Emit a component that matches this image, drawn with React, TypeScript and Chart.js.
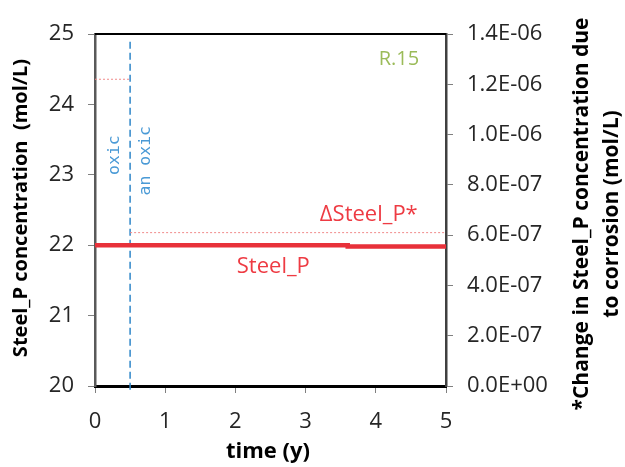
import React, { useEffect, useRef } from "react";
import { Chart, registerables } from "chart.js";

Chart.register(...registerables);

// Steel_P concentration over time (left axis, mol/L)
const TIME_STEEL = [0, 3.6, 3.6, 5];
const STEEL_P = [22.0, 22.0, 21.98, 21.98];

// Change in Steel_P due to corrosion (right axis, mol/L)
const TIME_DELTA = [0, 0.5, 0.5, 0.5, 5];
const DELTA_STEEL_P: (number | null)[] = [1.22e-6, 1.22e-6, null, 6.1e-7, 6.1e-7];

// oxic / anoxic boundary
const PHASE_TIME = [0.5, 0.5];
const PHASE_SPAN = [24.89, 19.94];

const X_TICKS = [0, 1, 2, 3, 4, 5];
const LEFT_RANGE = [20, 25];
const RIGHT_RANGE = [0, 1.4e-6];

// text labels placed in data coordinates (left axis)
const LABELS = [
  { text: "R.15", x: 4.33, y: 24.64, color: "#9bbb59", font: "20px 'Open Sans'", rot: 0 },
  { text: "\u0394Steel_P*", x: 3.9, y: 22.43, color: "#ee3b43", font: "22px 'Open Sans'", rot: 0 },
  { text: "Steel_P", x: 2.54, y: 21.7, color: "#ee3b43", font: "22px 'Open Sans'", rot: 0 },
  { text: "oxic", x: 0.28, y: 23.28, color: "#4a9ad6", font: "16.5px 'DejaVu Sans Mono'", rot: -Math.PI / 2 },
  { text: "an oxic", x: 0.72, y: 23.2, color: "#4a9ad6", font: "16.5px 'DejaVu Sans Mono'", rot: -Math.PI / 2 },
];

const TICK_FONT = { family: "'Open Sans'", size: 22 };

function fmtExp(v: number): string {
  if (Math.abs(v) < 1e-12) return "0.0E+00";
  const [m, e] = v.toExponential(1).split("e");
  const n = parseInt(e, 10);
  const sign = n < 0 ? "-" : "+";
  return `${m}E${sign}${String(Math.abs(n)).padStart(2, "0")}`;
}

const overlay = {
  id: "overlay",
  afterDatasetsDraw(chart: any) {
    const { ctx, chartArea, scales } = chart;
    ctx.save();
    // top frame line
    ctx.strokeStyle = "#000";
    ctx.lineWidth = 2;
    ctx.beginPath();
    ctx.moveTo(chartArea.left, chartArea.top);
    ctx.lineTo(chartArea.right, chartArea.top);
    ctx.stroke();

    ctx.textAlign = "center";
    ctx.textBaseline = "middle";
    for (const l of LABELS) {
      const px = scales.x.getPixelForValue(l.x);
      const py = scales.y.getPixelForValue(l.y);
      ctx.save();
      ctx.translate(px, py);
      ctx.rotate(l.rot);
      ctx.fillStyle = l.color;
      ctx.font = l.font;
      ctx.fillText(l.text, 0, 0);
      ctx.restore();
    }

    // axis titles
    ctx.fillStyle = "#000";
    ctx.font = "bold 20px 'Open Sans'";
    ctx.save();
    ctx.translate(21, 208);
    ctx.rotate(-Math.PI / 2);
    ctx.fillText("Steel_P concentration  (mol/L)", 0, 0);
    ctx.restore();

    ctx.font = "bold 21px 'Open Sans'";
    ctx.save();
    ctx.translate(582, 214);
    ctx.rotate(-Math.PI / 2);
    ctx.fillText("*Change in Steel_P concentration due", 0, 0);
    ctx.fillText("to corrosion (mol/L)", 0, 30);
    ctx.restore();

    ctx.font = "bold 22px 'Open Sans'";
    ctx.fillText("time (y)", 268, 452);
    ctx.restore();
  },
};

export default function App() {
  const ref = useRef<HTMLCanvasElement | null>(null);

  useEffect(() => {
    if (!ref.current) return;
    const chart = new Chart(ref.current, {
      type: "scatter",
      data: {
        datasets: [
          {
            label: "\u0394Steel_P",
            data: TIME_DELTA.map((t, i) => ({ x: t, y: DELTA_STEEL_P[i] })),
            yAxisID: "y2",
            showLine: true,
            borderColor: "#f08a8a",
            borderWidth: 1,
            borderDash: [2, 2],
            pointRadius: 0,
            spanGaps: false,
          },
          {
            label: "Steel_P",
            data: TIME_STEEL.map((t, i) => ({ x: t, y: STEEL_P[i] })),
            yAxisID: "y",
            showLine: true,
            borderColor: "#e8313a",
            borderWidth: 4.5,
            pointRadius: 0,
          },
          {
            label: "boundary",
            data: PHASE_TIME.map((t, i) => ({ x: t, y: PHASE_SPAN[i] })),
            yAxisID: "y",
            showLine: true,
            borderColor: "#2f87c9",
            borderWidth: 1.5,
            borderDash: [7, 4],
            pointRadius: 0,
            clip: false,
          },
        ] as any,
      },
      options: {
        animation: false,
        responsive: true,
        maintainAspectRatio: false,
        layout: { padding: { top: 34, left: 0, right: 0, bottom: 0 } },
        plugins: { legend: { display: false }, tooltip: { enabled: false } },
        scales: {
          x: {
            type: "linear",
            min: X_TICKS[0],
            max: X_TICKS[X_TICKS.length - 1],
            afterBuildTicks: (s: any) => {
              s.ticks = X_TICKS.map((v) => ({ value: v }));
            },
            ticks: { font: TICK_FONT, color: "#262626", padding: 16 },
            grid: { drawOnChartArea: false, tickLength: 7, color: "#808080" },
            border: { color: "#000", width: 3 },
            afterFit: (s: any) => {
              s.height = 81;
            },
          },
          y: {
            type: "linear",
            position: "left",
            min: LEFT_RANGE[0],
            max: LEFT_RANGE[1],
            ticks: { stepSize: 1, font: TICK_FONT, color: "#262626", padding: 14 },
            grid: { drawOnChartArea: false, tickLength: 7, color: "#808080" },
            border: { color: "#595959", width: 2.5 },
            afterFit: (s: any) => {
              s.width = 95;
            },
          },
          y2: {
            type: "linear",
            position: "right",
            min: RIGHT_RANGE[0],
            max: RIGHT_RANGE[1],
            afterBuildTicks: (s: any) => {
              const out = [];
              for (let i = 0; i <= 7; i++) out.push({ value: i * 2e-7 });
              s.ticks = out;
            },
            ticks: { font: TICK_FONT, color: "#262626", padding: 14, callback: (v: any) => fmtExp(Number(v)) },
            grid: { drawOnChartArea: false, tickLength: 7, color: "#808080" },
            border: { color: "#404040", width: 2.5 },
            afterFit: (s: any) => {
              s.width = 179;
            },
          },
        },
      },
      plugins: [overlay],
    });
    return () => chart.destroy();
  }, []);

  return (
    <div style={{ position: "fixed", left: 0, top: 0, width: 625, height: 467, background: "#fff" }}>
      <canvas ref={ref} />
    </div>
  );
}
